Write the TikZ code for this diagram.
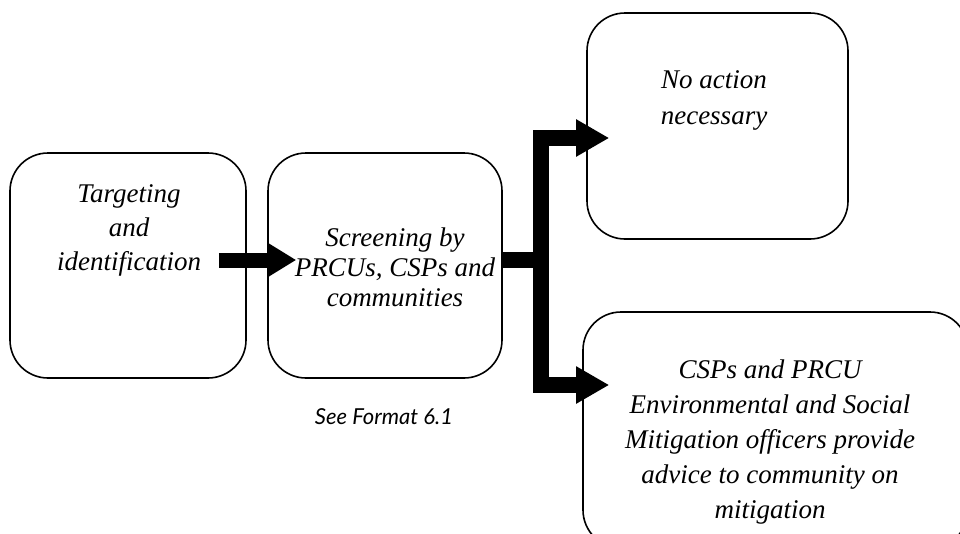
\documentclass[tikz,border=0pt]{standalone}
\usepackage{fontspec}
\setmainfont{Liberation Serif}
\newfontfamily\notefont{Lato}
\usetikzlibrary{arrows.meta}
\tikzset{
  box/.style={draw, line width=1.6pt, rounded corners=38pt, inner sep=0pt},
  boxtext/.style={align=center, inner sep=0pt, font=\itshape\fontsize{27}{34}\selectfont},
  fatarrow/.style={line width=15pt, line join=miter, -{Triangle[length=29pt,width=33pt]}},
  branch/.style={line width=16pt, line join=miter, -{Triangle[length=33pt,width=35pt]}},
}
\begin{document}
\begin{tikzpicture}[x=1pt, y=-1pt]
\useasboundingbox (0,0) rectangle (960,533);

% process boxes
\node[box, minimum width=236pt, minimum height=225pt] (A) at (128,265.5) {};
\node[box, minimum width=234pt, minimum height=225pt] (B) at (385,265.5) {};
\node[box, minimum width=261pt, minimum height=226pt] (C) at (717.5,126) {};
\node[box, minimum width=385pt, minimum height=236pt] (D) at (775.5,430) {};

% box labels
\node[boxtext] (At) at (129,230) {Targeting\\and\\identification};
\node[boxtext, font=\itshape\fontsize{27}{30}\selectfont] (Bt) at (395,267) {Screening by\\PRCUs, CSPs and\\communities};
\node[boxtext, font=\itshape\fontsize{27}{36}\selectfont] (Ct) at (714,100) {No action\\necessary};
\node[boxtext, font=\itshape\fontsize{27}{35}\selectfont] (Dt) at (770,442)
  {CSPs and PRCU\\Environmental and Social\\Mitigation officers provide\\advice to community on\\mitigation};
\node[inner sep=0pt, font=\notefont\itshape\fontsize{22}{26}\selectfont] (note) at (384,417) {See Format 6.1};

% connectors
\coordinate (mid) at (0,260);
\coordinate (up) at (541,138);
\coordinate (down) at (541,385);
\draw[fatarrow, shorten <=-28pt, shorten >=-29pt] (A.east |- mid) -- (B.west |- mid);
\draw[branch] (B.east |- mid) -| (up) -- ([xshift=23pt]C.west |- up);
\draw[branch] (B.east |- mid) -| (down) -- ([xshift=27pt]D.west |- down);
\end{tikzpicture}
\end{document}
